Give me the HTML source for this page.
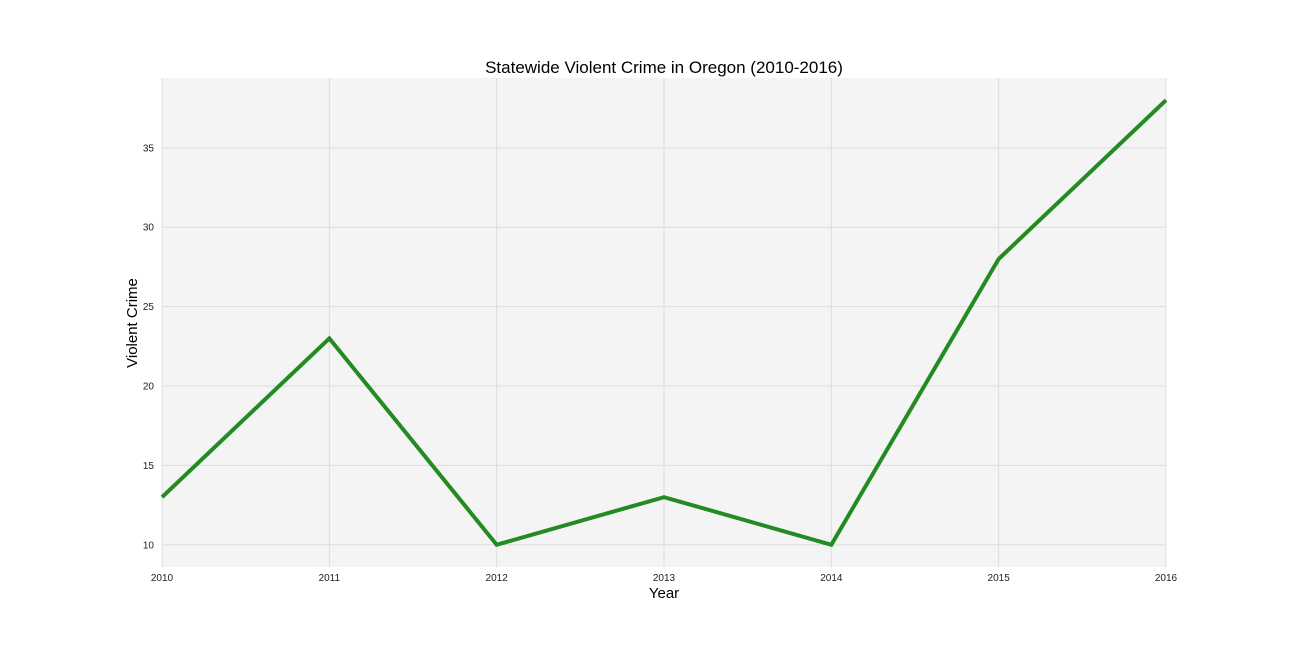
<!DOCTYPE html>
<html><head><meta charset="utf-8"><style>
body{margin:0;background:#fff;}
svg{display:block;font-family:"Liberation Sans",sans-serif;}
</style></head><body>
<svg id="chart" width="1296" height="648">
<rect x="162" y="78" width="1004" height="489" fill="#f4f4f4"/>
<g id="grid"></g>
<g id="ticks"></g>
<polyline id="line" fill="none" stroke="#228b22" stroke-width="4" stroke-linejoin="miter"/>
<text x="664" y="73" text-anchor="middle" font-size="17">Statewide Violent Crime in Oregon (2010-2016)</text>
<text x="664" y="598" text-anchor="middle" font-size="15">Year</text>
<text transform="translate(137,323) rotate(-90)" text-anchor="middle" font-size="15">Violent Crime</text>
</svg>
<script>
const years=[2010,2011,2012,2013,2014,2015,2016];
const crime=[13,23,10,13,10,28,38];
const yTicks=[10,15,20,25,30,35];
const X0=162,X1=1166,Y0=567,Y1=78;
const xmin=2010,xmax=2016,ymin=8.6,ymax=39.4;
const xs=v=>X0+(v-xmin)/(xmax-xmin)*(X1-X0);
const ys=v=>Y0-(v-ymin)/(ymax-ymin)*(Y0-Y1);
const NS="http://www.w3.org/2000/svg";
const grid=document.getElementById('grid'),ticks=document.getElementById('ticks');
function mk(t,a,p){const e=document.createElementNS(NS,t);for(const k in a)e.setAttribute(k,a[k]);p.appendChild(e);return e;}
years.forEach(y=>{
 const l=mk('line',{x1:xs(y),x2:xs(y),y1:Y1,y2:Y0,stroke:'#dcdcdc','stroke-width':1},grid);
 
 
 const t=mk('text',{x:xs(y),y:581,'text-anchor':'middle','font-size':10,fill:'#222'},ticks);
 t.textContent=y;
 
 
});
yTicks.forEach(v=>{
 const l=mk('line',{x1:X0,x2:X1,y1:ys(v),y2:ys(v),stroke:'#dcdcdc','stroke-width':1},grid);
 
 
 const t=mk('text',{x:154,y:ys(v)+3.5,'text-anchor':'end','font-size':10,fill:'#222'},ticks);
 t.textContent=v;
 
 
});
document.getElementById('line').setAttribute('points',years.map((y,i)=>xs(y)+','+ys(crime[i])).join(' '));
</script>
</body></html>
